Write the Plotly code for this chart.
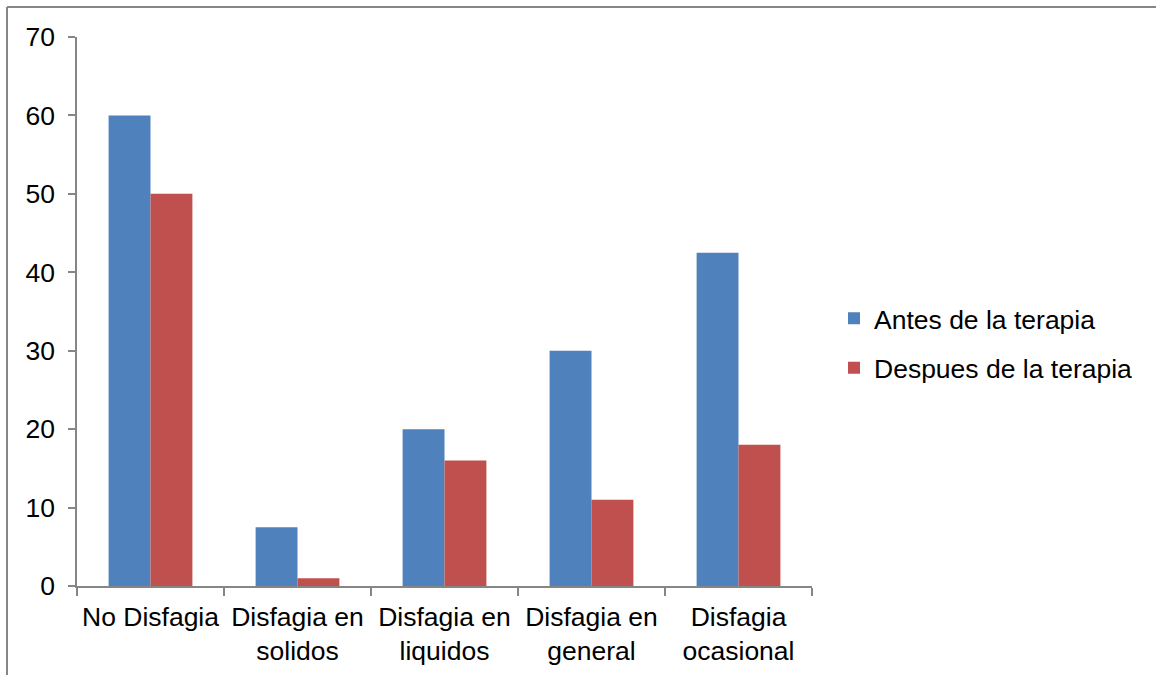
import plotly.graph_objects as go

categories = ["No Disfagia", "Disfagia en<br>solidos", "Disfagia en<br>liquidos",
              "Disfagia en<br>general", "Disfagia<br>ocasional"]
antes = [60, 7.5, 20, 30, 42.5]
despues = [50, 1, 16, 11, 18]
series_names = ["Antes de la terapia", "Despues de la terapia"]
y_ticks = [0, 10, 20, 30, 40, 50, 60, 70]

FONT = "Liberation Sans, Arial, sans-serif"
GRAY = "#868686"
FS = 26.5

fig = go.Figure()
fig.add_trace(go.Bar(x=categories, y=antes, name=series_names[0],
                     marker=dict(color="#4F81BD", line=dict(width=0)),
                     legendgroup="a"))
fig.add_trace(go.Bar(x=categories, y=despues, name=series_names[1],
                     marker=dict(color="#C0504D", line=dict(width=0)),
                     legendgroup="b"))

W, H = 1156, 675
L, R, T, B = 77, 344, 37, 89
pw, ph = W - L - R, H - T - B

def px_x(v):
    return (v - L) / pw

def px_y(v):
    return (H - B - v) / ph

fig.update_layout(
    width=W, height=H,
    margin=dict(l=L, r=R, t=T, b=B, autoexpand=False),
    paper_bgcolor="white", plot_bgcolor="white",
    barmode="group", bargap=0.43, bargroupgap=0,
    font=dict(family=FONT, size=FS, color="black"),
    showlegend=True,
    legend=dict(x=px_x(834), xanchor="left", y=px_y(343), yanchor="middle",
                font=dict(size=FS, family=FONT, color="black"),
                traceorder="grouped", tracegroupgap=12,
                bgcolor="rgba(0,0,0,0)", itemwidth=30),
    xaxis=dict(showline=True, linecolor=GRAY, linewidth=1.5,
               ticks="outside", tickson="boundaries", ticklen=8,
               tickcolor=GRAY, tickwidth=1.5, showgrid=False,
               ticklabelstandoff=6,
               tickfont=dict(size=FS, family=FONT, color="black")),
    yaxis=dict(range=[0, 70], tickvals=y_ticks, showline=True, linecolor=GRAY,
               linewidth=1.5, ticks="outside", ticklen=7, tickcolor=GRAY,
               tickwidth=1.5, showgrid=False, zeroline=False,
               ticklabelstandoff=8,
               tickfont=dict(size=FS, family=FONT, color="black")),
    shapes=[
        dict(type="line", xref="paper", yref="paper",
             x0=px_x(7), x1=px_x(W + 5), y0=px_y(7), y1=px_y(7),
             line=dict(color=GRAY, width=2)),
        dict(type="line", xref="paper", yref="paper",
             x0=px_x(7), x1=px_x(7), y0=px_y(7), y1=px_y(H + 5),
             line=dict(color=GRAY, width=2)),
    ],
)

fig.write_html("out.html")
